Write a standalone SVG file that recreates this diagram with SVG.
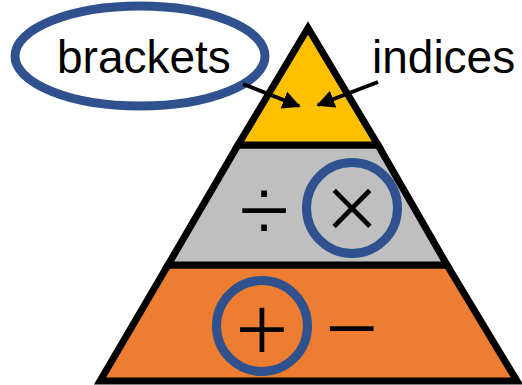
<svg xmlns="http://www.w3.org/2000/svg" width="522" height="385" viewBox="0 0 522 385">
<defs>
<style>
.tier{stroke:#000;stroke-width:7;stroke-linejoin:miter}
.ring{fill:none;stroke:#2F528F;stroke-width:9}
.lbl{font-family:"Liberation Sans",Arial,sans-serif;font-size:46px;fill:#000}
.sym{font-family:"Liberation Sans",Arial,sans-serif;font-size:94px;fill:#000;text-anchor:middle;stroke-width:2}
.on-orange{stroke:#ED7D31}
.on-grey{stroke:#BFBFBF}
.arrow{stroke:#000;stroke-width:4;fill:none}
</style>
<marker id="ah" viewBox="0 0 10 10" refX="9" refY="5" markerWidth="4.5" markerHeight="4.5" orient="auto" markerUnits="strokeWidth">
<path d="M0,0 L10,5 L0,10 z" fill="#000"/>
</marker>
</defs>
<rect width="522" height="385" fill="#fff"/>
<g id="tier-bottom">
<polygon class="tier" points="168,265 447,265 517,381 100,381" fill="#ED7D31"/>
<circle class="ring" cx="262" cy="326" r="45.5"/>
<text class="sym on-orange" x="262" y="361">+</text>
<text class="sym on-orange" x="352" y="360">−</text>
</g>
<g id="tier-middle">
<polygon class="tier" points="238,145 378,145 447,265 168,265" fill="#BFBFBF"/>
<circle class="ring" cx="352" cy="208" r="45.5"/>
<text class="sym on-grey" x="264" y="242">÷</text>
<text class="sym on-grey" x="352" y="240" font-size="88">×</text>
</g>
<g id="tier-top">
<polygon class="tier" points="308,28 378,145 238,145" fill="#FFC000"/>
</g>
<g id="brackets">
<ellipse class="ring" cx="140" cy="56" rx="125" ry="50" stroke-width="7"/>
<text class="lbl" x="57" y="73">brackets</text>
</g>
<g id="indices">
<text class="lbl" x="372" y="73">indices</text>
</g>
<g id="connectors">
<line class="arrow" x1="243" y1="84" x2="299" y2="106" marker-end="url(#ah)"/>
<line class="arrow" x1="378" y1="82" x2="318" y2="105" marker-end="url(#ah)"/>
</g>
</svg>
